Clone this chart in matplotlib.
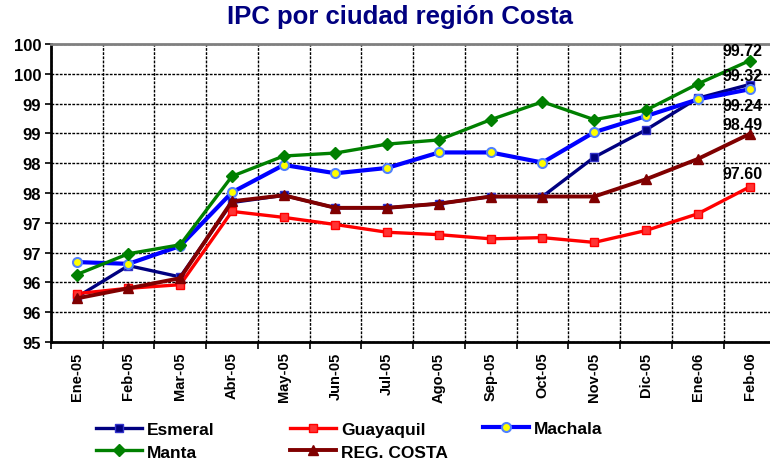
import numpy as np
import matplotlib
matplotlib.use("Agg")
import matplotlib.pyplot as plt
from matplotlib.ticker import FuncFormatter, MultipleLocator

plt.rcParams['font.family'] = ['Liberation Sans', 'DejaVu Sans']
plt.rcParams['font.weight'] = 'bold'

meses = ["Ene-05", "Feb-05", "Mar-05", "Abr-05", "May-05", "Jun-05", "Jul-05",
         "Ago-05", "Sep-05", "Oct-05", "Nov-05", "Dic-05", "Ene-06", "Feb-06"]

esmeral = [95.75, 96.28, 96.09, 97.34, 97.46, 97.25, 97.25, 97.32, 97.44, 97.44,
           98.10, 98.56, 99.09, 99.32]
guayaquil = [95.81, 95.90, 95.96, 97.19, 97.09, 96.97, 96.84, 96.80, 96.73, 96.75,
             96.67, 96.87, 97.15, 97.60]
machala = [96.34, 96.31, 96.61, 97.51, 97.97, 97.83, 97.92, 98.18, 98.18, 98.01,
           98.52, 98.79, 99.07, 99.24]
manta = [96.13, 96.48, 96.63, 97.78, 98.12, 98.17, 98.32, 98.39, 98.73, 99.03,
         98.73, 98.89, 99.33, 99.72]
reg_costa = [95.73, 95.90, 96.07, 97.36, 97.46, 97.25, 97.25, 97.32, 97.44, 97.44,
             97.44, 97.73, 98.07, 98.49]

fig = plt.figure(figsize=(7.7, 4.64), dpi=100)
ax = fig.add_axes([0.066, 0.261, 0.941, 0.642])

x = np.arange(len(meses))

l_esm, = ax.plot(x, esmeral, color='#000080', lw=2.4, marker='s', ms=6,
                 mfc='#000080', mec='#3333cc', label='Esmeral', zorder=3)
l_gua, = ax.plot(x, guayaquil, color='#ff0000', lw=2.4, marker='s', ms=6,
                 mfc='#ff3333', mec='#ff0000', label='Guayaquil', zorder=3)
l_mac, = ax.plot(x, machala, color='#0000ff', lw=3.0, marker='o', ms=6.5,
                 mfc='#ffff00', mec='#5080ff', mew=1.5, label='Machala', zorder=3)
l_man, = ax.plot(x, manta, color='#008000', lw=2.4, marker='D', ms=6,
                 mfc='#008000', mec='#008000', label='Manta', zorder=3)
l_reg, = ax.plot(x, reg_costa, color='#800000', lw=2.8, marker='^', ms=7.5,
                 mfc='#800000', mec='#800000', label='REG. COSTA', zorder=4)

# etiquetas del ultimo mes (desplazamiento en puntos)
ultimo = len(meses) - 1
etiquetas = [(manta, 7), (esmeral, 6.5), (machala, -12), (reg_costa, 6.5), (guayaquil, 9.5)]
for serie, dy in etiquetas:
    ax.annotate(f"{serie[-1]:.2f}", (ultimo, serie[-1]), xytext=(-5, dy),
                textcoords='offset points', ha='center', va='center',
                fontsize=11.5, fontweight='bold', color='black', zorder=5)

ax.set_xlim(-0.5, len(meses) - 0.5)
ax.set_ylim(95, 100)
ax.yaxis.set_major_locator(MultipleLocator(0.5))
ax.yaxis.set_major_formatter(FuncFormatter(lambda v, p: f"{int(np.floor(v + 0.5))}"))

ax.set_xticks(x)
ax.set_xticklabels(meses, rotation=90, fontsize=10.5, fontweight='bold')
ax.set_xticks(np.arange(-0.5, len(meses), 1), minor=True)
ax.tick_params(axis='x', which='major', length=0, pad=7)
ax.tick_params(axis='x', which='minor', length=5, width=1.2, color='black')
ax.tick_params(axis='y', labelsize=12, length=4, width=1.2, pad=3)
for lab in ax.get_yticklabels():
    lab.set_fontweight('bold')

ax.grid(True, which='major', axis='y', color='black', ls=(0, (2, 1)), lw=1.0)
ax.grid(True, which='minor', axis='x', color='black', ls=(0, (2, 1)), lw=1.0)

ax.spines['left'].set_linewidth(2)
ax.spines['bottom'].set_linewidth(2)
ax.spines['top'].set_color('#808080')
ax.spines['top'].set_linewidth(2)
ax.spines['right'].set_visible(False)

fig.suptitle("IPC por ciudad región Costa", x=0.52, y=0.99, fontsize=18.5,
             fontweight='bold', color='#000080')

# leyenda en tres columnas, una por llamada
columnas = [([l_esm, l_man], 96, 0.0485), ([l_gua, l_reg], 290, 0.0485), ([l_mac], 483, 0.0735)]
for handles, x0, y0 in columnas:
    fig.legend(handles=handles, loc='center left', bbox_to_anchor=(x0 / 770, y0),
               frameon=False, fontsize=12.5, handlelength=2.65, handletextpad=0.3,
               labelspacing=0.45, borderpad=0, borderaxespad=0)

fig.savefig("out.png", dpi=100)
